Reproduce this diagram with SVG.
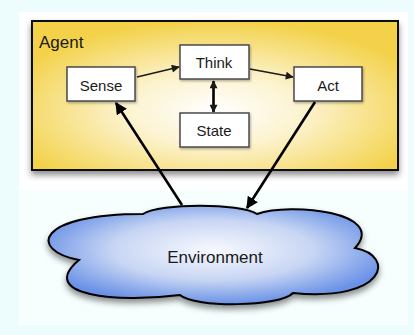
<svg xmlns="http://www.w3.org/2000/svg" width="414" height="335" viewBox="0 0 414 335">
  <defs>
    <radialGradient id="agentFill" cx="0.5" cy="0.6" r="0.6">
      <stop offset="0" stop-color="#ffffff"/>
      <stop offset="0.4" stop-color="#fcf3cf"/>
      <stop offset="1" stop-color="#f3d24a"/>
    </radialGradient>
    <radialGradient id="cloudFill" cx="0.5" cy="0.45" r="0.55">
      <stop offset="0" stop-color="#f8f9fe"/>
      <stop offset="0.55" stop-color="#c8d6f4"/>
      <stop offset="1" stop-color="#6a92e6"/>
    </radialGradient>
    <filter id="shadow" x="-10%" y="-10%" width="120%" height="130%">
      <feDropShadow dx="0" dy="4" stdDeviation="3" flood-color="#000" flood-opacity="0.45"/>
    </filter>
    <filter id="boxShadow" x="-10%" y="-10%" width="130%" height="140%">
      <feDropShadow dx="1" dy="1.5" stdDeviation="1" flood-color="#000" flood-opacity="0.3"/>
    </filter>
    <marker id="arrowSmall" viewBox="0 0 10 10" refX="9" refY="5" markerWidth="9" markerHeight="8" markerUnits="userSpaceOnUse" orient="auto-start-reverse">
      <path d="M0 0 L10 5 L0 10 Z" fill="#1a1a1a"/>
    </marker>
    <marker id="arrowBig" viewBox="0 0 10 10" refX="9" refY="5" markerWidth="12" markerHeight="12" markerUnits="userSpaceOnUse" orient="auto-start-reverse">
      <path d="M0 0 L10 5 L0 10 Z" fill="#000"/>
    </marker>
  </defs>
  <style>
    .box { fill: #ffffff; stroke: #4a4a4a; stroke-width: 1.5; filter: url(#boxShadow); }
    .label { font-family: "Liberation Sans", Arial, sans-serif; font-size: 15px; fill: #1a1a1a; text-anchor: middle; }
    .thin { stroke: #1a1a1a; stroke-width: 1.6; fill: none; }
    .thick { stroke: #000; stroke-width: 2.6; fill: none; }
  </style>

  <!-- page background -->
  <rect x="0" y="0" width="414" height="335" fill="#edfcfd"/>
  <rect x="19" y="12" width="389" height="313" fill="#f6fefe"/>
  <rect x="19" y="12" width="389" height="178" fill="#ffffff"/>

  <!-- agent container -->
  <g id="agent">
    <rect x="32" y="21" width="366" height="149" fill="url(#agentFill)" stroke="#111" stroke-width="2" filter="url(#shadow)"/>
    <text x="39" y="48" font-family="Liberation Sans, Arial, sans-serif" font-size="17" fill="#1a1a1a">Agent</text>
  </g>

  <!-- environment cloud -->
  <g id="environment">
    <path d="M143 214 C160 203, 240 203, 257 214 C290 202, 388 212, 355 248 C397 256, 385 302, 293 293 C280 307, 195 308, 180 295 C118 303, 36 296, 79 260 C28 250, 36 214, 143 214 Z" fill="url(#cloudFill)" stroke="#000" stroke-width="2" filter="url(#shadow)"/>
    <text x="215" y="263" class="label" style="font-size:17px">Environment</text>
  </g>

  <g id="sense">
    <rect class="box" x="67" y="67" width="68" height="34"/>
    <text class="label" x="101" y="91">Sense</text>
  </g>
  <g id="think">
    <rect class="box" x="180" y="45" width="69" height="34"/>
    <text class="label" x="214" y="68">Think</text>
  </g>
  <g id="act">
    <rect class="box" x="294" y="67" width="68" height="34"/>
    <text class="label" x="328" y="91">Act</text>
  </g>
  <g id="state">
    <rect class="box" x="180" y="113" width="69" height="34"/>
    <text class="label" x="214" y="136">State</text>
  </g>

  <!-- connectors -->
  <g id="connectors">
    <line class="thin" x1="137" y1="77" x2="179" y2="67" marker-end="url(#arrowSmall)"/>
    <line class="thin" x1="250" y1="69" x2="293" y2="77" marker-end="url(#arrowSmall)"/>
    <line class="thick" x1="213.5" y1="81" x2="213.5" y2="112" stroke-width="2" marker-start="url(#arrowSmall)" marker-end="url(#arrowSmall)"/>
    <line class="thick" x1="182" y1="205" x2="116" y2="103" marker-end="url(#arrowBig)"/>
    <line class="thick" x1="315" y1="102" x2="247" y2="208" marker-end="url(#arrowBig)"/>
  </g>
</svg>
